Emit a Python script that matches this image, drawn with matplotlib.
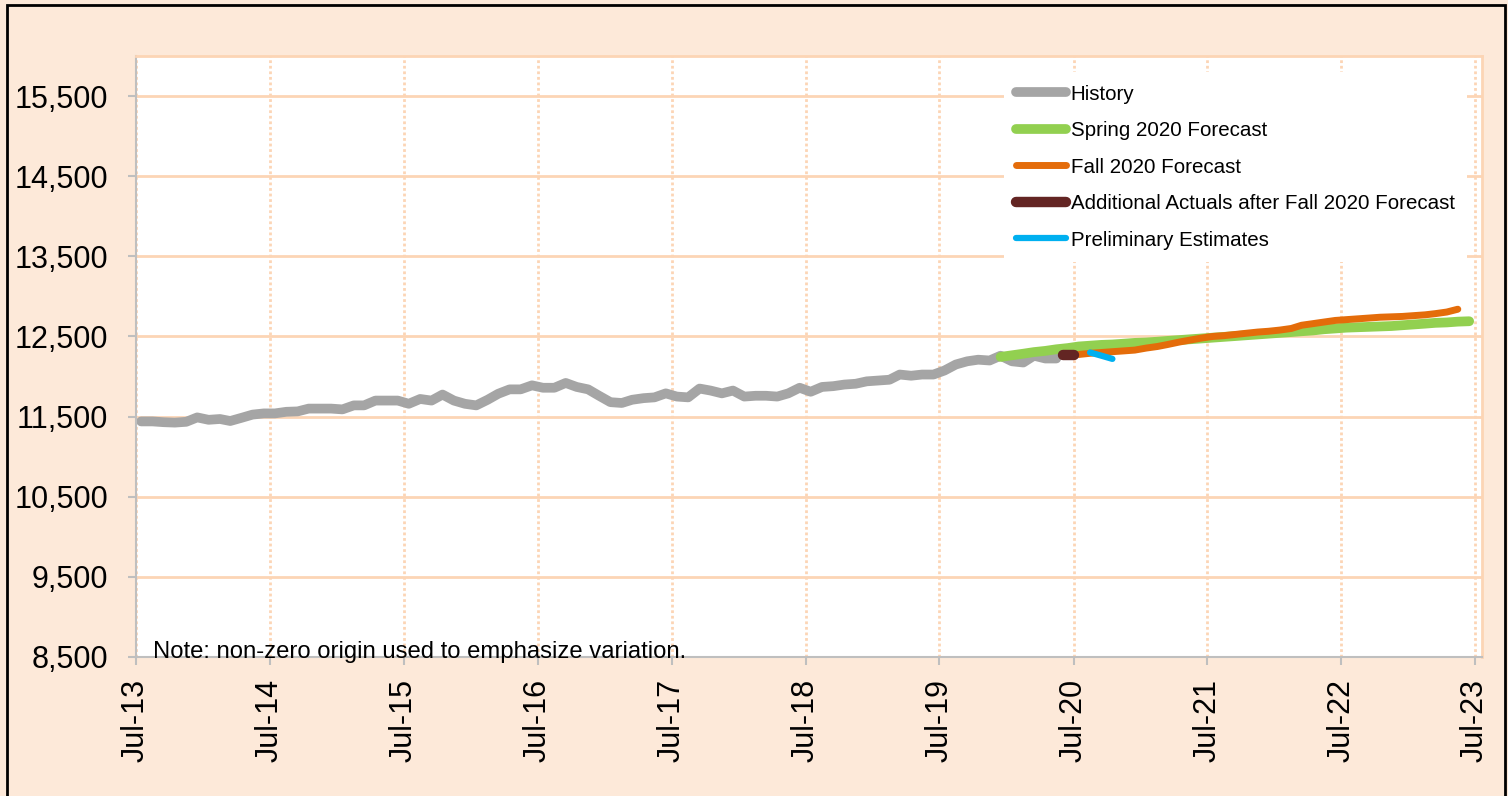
import matplotlib.pyplot as plt
import matplotlib.dates as mdates
import matplotlib.ticker as mticker
from matplotlib.patches import Rectangle
import pandas as pd

plt.rcParams['font.family'] = ['Liberation Sans', 'DejaVu Sans']

# monthly values
history = [11440, 11440, 11430, 11425, 11435, 11490,
           11460, 11470, 11445, 11485, 11525, 11540, 11540, 11560, 11565, 11600, 11600, 11600,
           11590, 11640, 11640, 11700, 11700, 11700, 11660, 11720, 11700, 11775, 11700, 11660,
           11640, 11710, 11785, 11840, 11840, 11890, 11860, 11860, 11920, 11870, 11840, 11760,
           11680, 11670, 11710, 11730, 11740, 11790, 11750, 11740, 11850, 11825, 11790, 11825,
           11750, 11760, 11760, 11750, 11790, 11860, 11810, 11870, 11880, 11900, 11910, 11940,
           11950, 11960, 12025, 12010, 12025, 12025, 12075, 12150, 12190, 12210, 12200, 12260,
           12190, 12175, 12260, 12225, 12225]
spring = [12245,
          12265, 12285, 12305, 12320, 12340, 12355, 12375, 12385, 12395, 12400, 12410, 12420,
          12425, 12435, 12445, 12455, 12465, 12475, 12485, 12495, 12505, 12515, 12525, 12535,
          12545, 12555, 12565, 12575, 12590, 12600, 12610, 12615, 12620, 12625, 12630, 12640,
          12650, 12660, 12670, 12675, 12685, 12690]
fall = [12275, 12290, 12300, 12310, 12320, 12330,
        12355, 12375, 12400, 12430, 12455, 12480, 12500, 12510, 12525, 12540, 12555, 12565,
        12580, 12600, 12640, 12660, 12680, 12700, 12710, 12720, 12730, 12740, 12745, 12750,
        12760, 12770, 12785, 12805, 12840]
actuals = [12265, 12265]
prelim = [12300, 12260, 12220]

mid = pd.Timedelta(days=14)
hist_dates = pd.date_range('2013-07-01', periods=len(history), freq='MS') + mid
spring_dates = pd.date_range('2019-12-01', periods=len(spring), freq='MS') + mid
fall_dates = pd.date_range('2020-07-01', periods=len(fall), freq='MS') + mid
act_dates = pd.date_range('2020-06-01', periods=len(actuals), freq='MS')
pre_dates = pd.date_range('2020-08-01', periods=len(prelim), freq='MS') + mid

fig = plt.figure(figsize=(15.08, 7.96), dpi=100)
fig.patch.set_facecolor('#FDE9D9')
ax = fig.add_axes([136/1508, 1-657/796, 1346/1508, (657-56)/796])
ax.set_facecolor('white')

peach = '#FCD5B5'
ax.plot(hist_dates, history, color='#A5A5A5', lw=7, solid_capstyle='round', solid_joinstyle='round', label='History')
ax.plot(spring_dates, spring, color='#92D050', lw=7, solid_capstyle='round', label='Spring 2020 Forecast')
ax.plot(fall_dates, fall, color='#E46C0A', lw=5, solid_capstyle='round', label='Fall 2020 Forecast')
ax.plot(act_dates, actuals, color='#632523', lw=7.5, solid_capstyle='round',
        label='Additional Actuals after Fall 2020 Forecast')
ax.plot(pre_dates, prelim, color='#00B0F0', lw=4.5, solid_capstyle='round', label='Preliminary Estimates')

ax.set_ylim(8500, 16000)
ax.set_xlim(pd.Timestamp('2013-07-01'), pd.Timestamp('2023-07-20'))
ax.set_yticks([8500, 9500, 10500, 11500, 12500, 13500, 14500, 15500])
ax.yaxis.set_major_formatter(mticker.FuncFormatter(lambda v, p: f'{int(v):,}'))
ax.xaxis.set_major_locator(mdates.MonthLocator(bymonth=7))
ax.xaxis.set_major_formatter(mdates.DateFormatter('%b-%y'))

ax.grid(axis='y', color=peach, lw=2, ls='-')
ax.grid(axis='x', color=peach, lw=2, ls=(0, (1, 1)))
ax.set_axisbelow(True)

for s in ['top', 'right']:
    ax.spines[s].set_color(peach)
    ax.spines[s].set_linewidth(2)
for s in ['left', 'bottom']:
    ax.spines[s].set_color('#BFBFBF')
    ax.spines[s].set_linewidth(1.5)

ax.tick_params(axis='y', labelsize=22, length=6, width=1.5, color='#BFBFBF', pad=14)
ax.tick_params(axis='x', labelsize=22, length=6, width=1.5, color='#BFBFBF', pad=10, rotation=90)

leg = ax.legend(loc='upper right', bbox_to_anchor=(0.9965, 0.99), fontsize=14.8, frameon=True,
                facecolor='white', edgecolor='none', framealpha=1, fancybox=False,
                handlelength=2.4, handletextpad=0.25, labelspacing=0.85, borderpad=0.6)

ax.text(0.013, -0.01, 'Note: non-zero origin used to emphasize variation.', transform=ax.transAxes,
        fontsize=17.2, ha='left', va='bottom', zorder=5)

# outer border
fig.add_artist(Rectangle((7/1508, -0.05), (1505-7)/1508, 1.05-5/796, transform=fig.transFigure,
                         fill=False, edgecolor='black', lw=2))

fig.savefig('out.png', dpi=100, facecolor=fig.get_facecolor())
